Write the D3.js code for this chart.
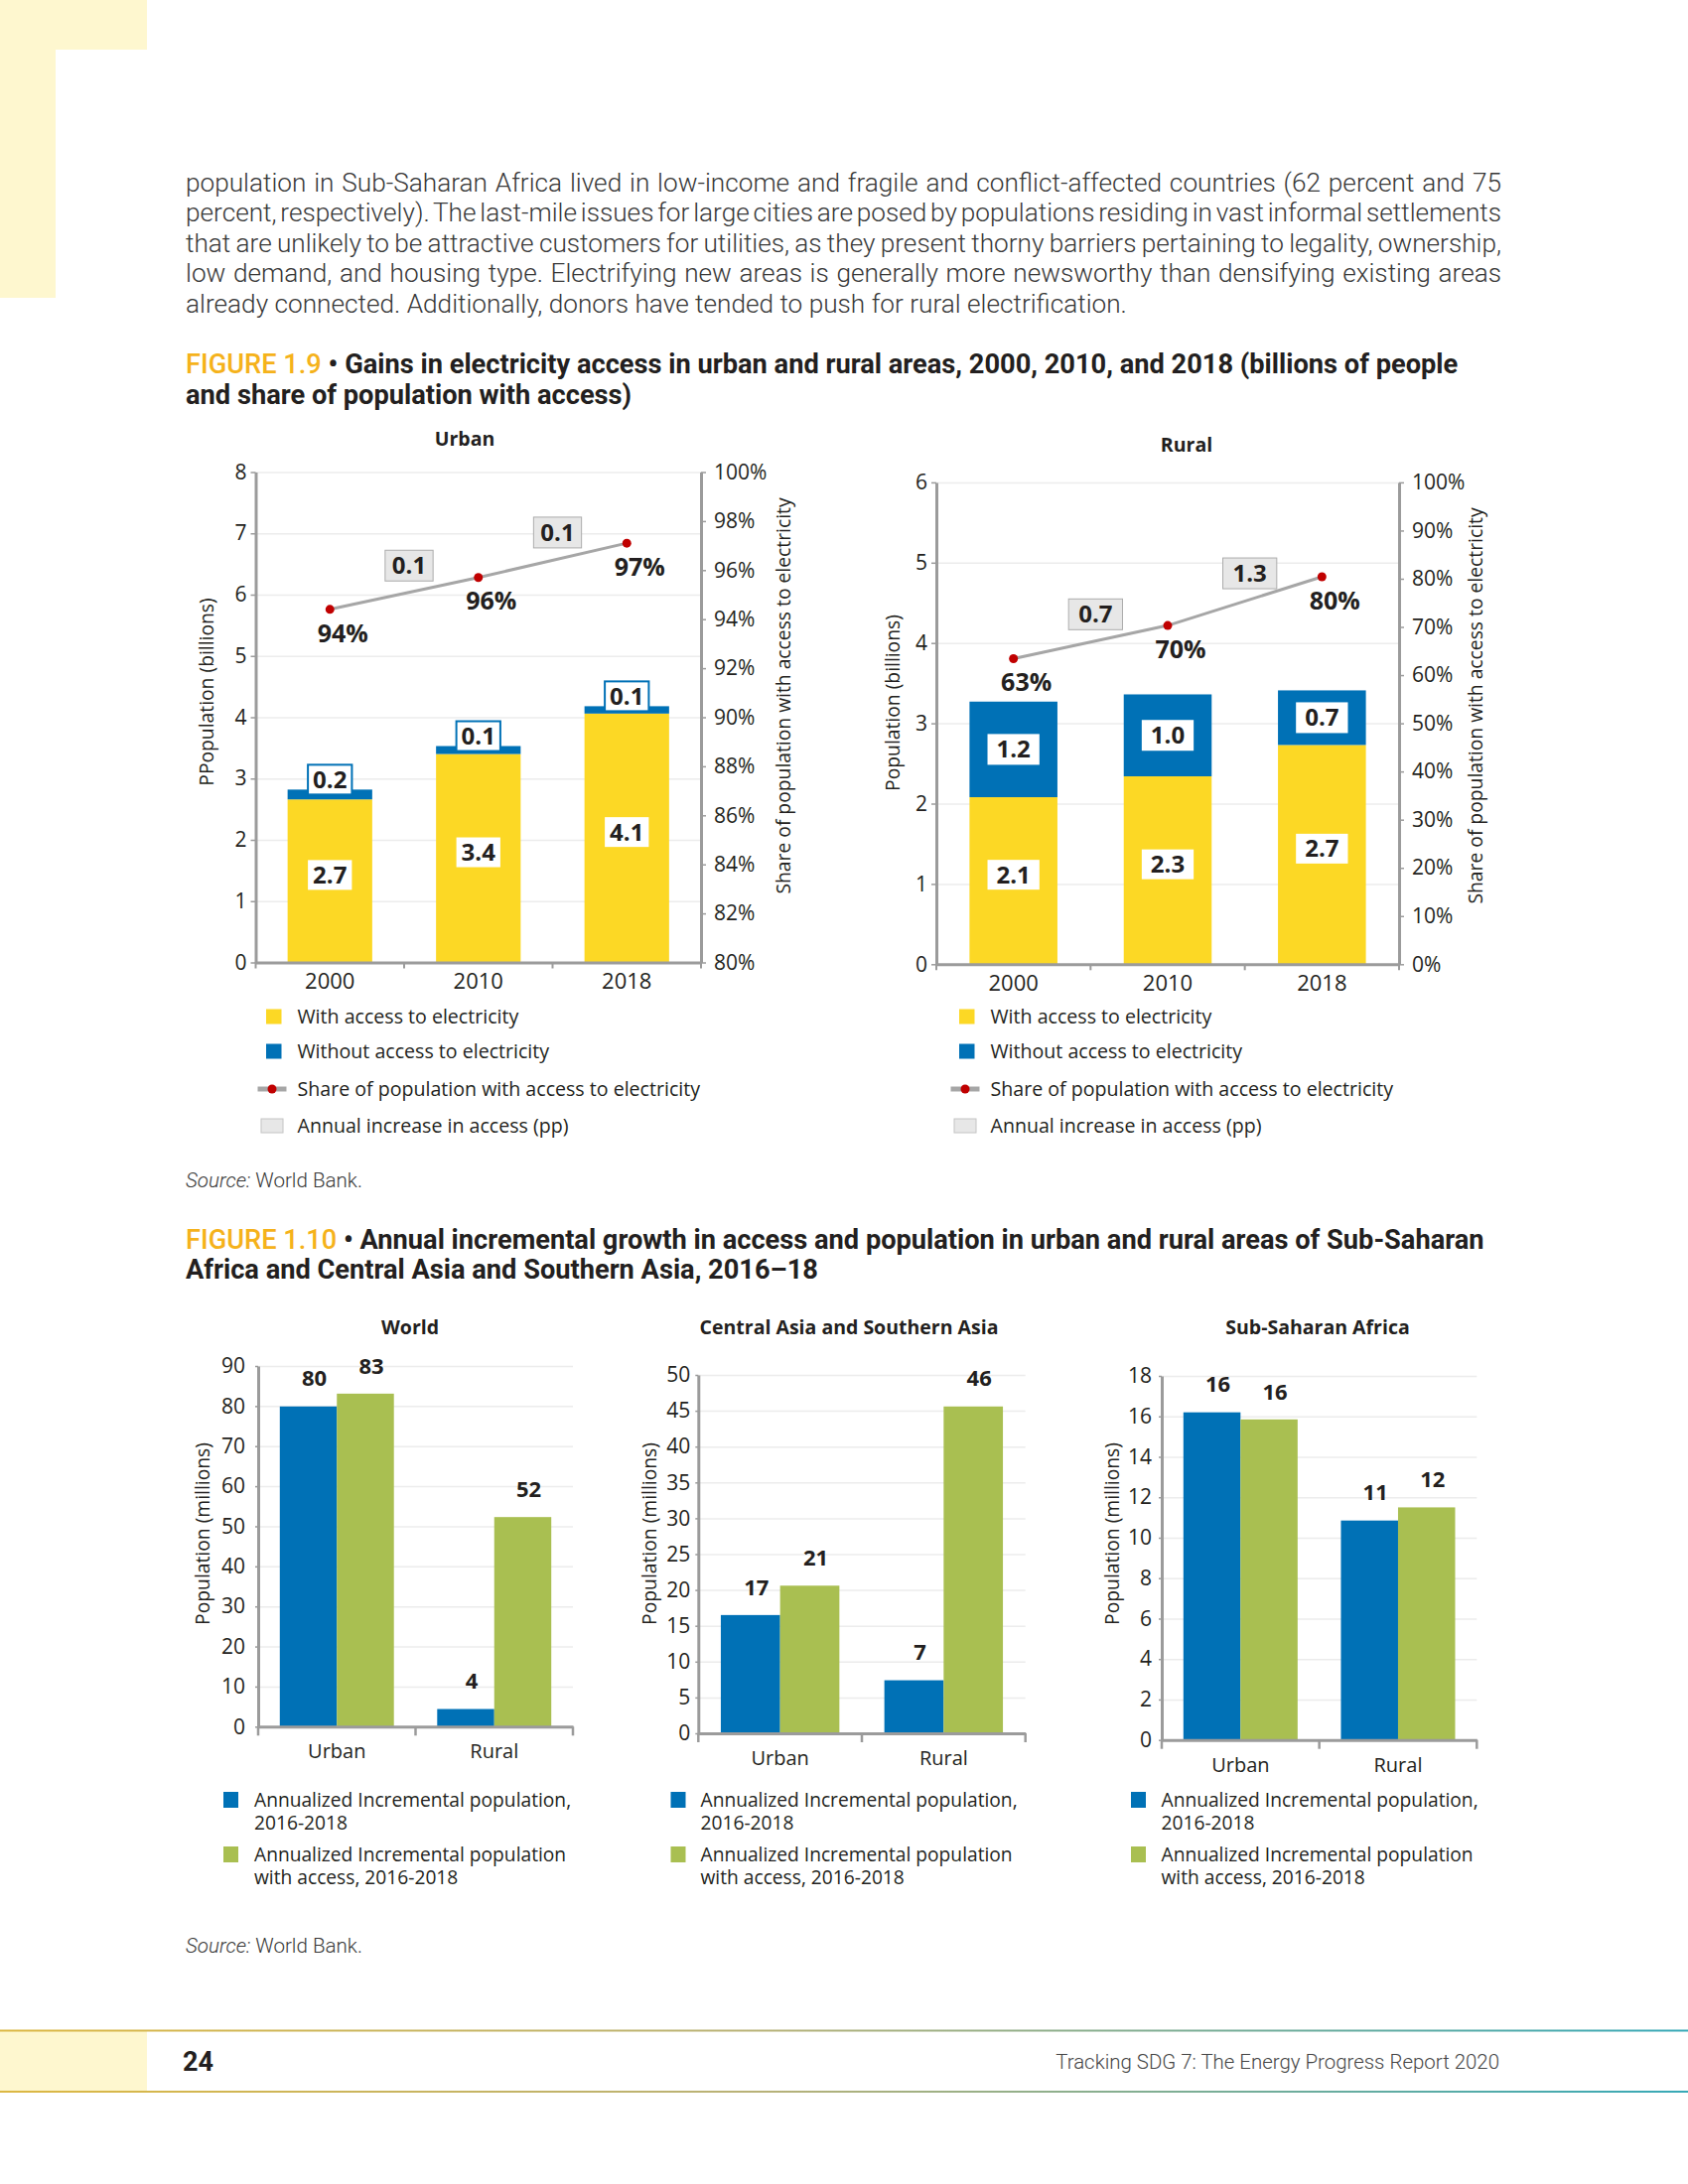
<!DOCTYPE html>
<html>
<head>
<meta charset="utf-8">
<script src="https://cdn.jsdelivr.net/npm/d3@7"></script>
<style>
body { margin: 0; background: #fff; }
svg { display: block; }
.chart text { font-family: "Open Sans", sans-serif; fill: #231f20; }
.page text { font-family: Roboto, sans-serif; }
</style>
</head>
<body>
<script>
//paragraph lines above the figures
var paragraph = [
    'population in Sub-Saharan Africa lived in low-income and fragile and conflict-affected countries (62 percent and 75',
    'percent, respectively). The last-mile issues for large cities are posed by populations residing in vast informal settlements',
    'that are unlikely to be attractive customers for utilities, as they present thorny barriers pertaining to legality, ownership,',
    'low demand, and housing type. Electrifying new areas is generally more newsworthy than densifying existing areas',
    'already connected. Additionally, donors have tended to push for rural electrification.'
];

//figure 1.9 data (billions of people, share in %)
var years = ['2000', '2010', '2018'];
var urbanWith = [2.66, 3.40, 4.06];
var urbanWithout = [0.16, 0.13, 0.12];
var urbanShare = [94.4, 95.7, 97.1];
var urbanIncrease = [0.1, 0.1];
var ruralWith = [2.08, 2.34, 2.73];
var ruralWithout = [1.19, 1.02, 0.68];
var ruralShare = [63.4, 70.3, 80.4];
var ruralIncrease = [0.7, 1.3];
var urbanShareTicks = [80, 82, 84, 86, 88, 90, 92, 94, 96, 98, 100];
var ruralShareTicks = [0, 10, 20, 30, 40, 50, 60, 70, 80, 90, 100];
var legend19 = ['With access to electricity', 'Without access to electricity',
    'Share of population with access to electricity', 'Annual increase in access (pp)'];

//figure 1.10 data (millions of people)
var areas = ['Urban', 'Rural'];
var worldPop = [79.9, 4.4];
var worldAccess = [83.1, 52.3];
var casaPop = [16.5, 7.4];
var casaAccess = [20.6, 45.6];
var ssaPop = [16.2, 10.85];
var ssaAccess = [15.85, 11.5];
var legend110 = [['Annualized Incremental population,', '2016-2018'],
    ['Annualized Incremental population', 'with access, 2016-2018']];

var colors = { with: '#fcd825', without: '#0071b6', pop: '#0071b6', acc: '#a9bf51' };
var axisColor = '#9b9b9b', gridColor = '#ececec';

var svg = d3.select('body').append('svg')
    .attr('width', 1700)
    .attr('height', 2200);

var page = svg.append('g').attr('class', 'page');

//pale yellow page corner
page.append('rect').attr('x', 0).attr('y', 0).attr('width', 148).attr('height', 50).attr('fill', '#fef7cf');
page.append('rect').attr('x', 0).attr('y', 0).attr('width', 56).attr('height', 300).attr('fill', '#fef7cf');

//scale a text's font so its natural width hits a target
function fitSize(sel, target) {
    var size = parseFloat(sel.style('font-size'));
    var w = sel.node().getComputedTextLength();
    var s = size * target / w;
    sel.style('font-size', s + 'px');
    return s;
}

//justified paragraph
var paraLines = page.selectAll('.para')
    .data(paragraph)
    .enter()
    .append('text')
    .attr('class', 'para')
    .attr('x', 187)
    .attr('y', function(d, i){ return 193 + i * 30.4; })
    .style('font-weight', 300)
    .style('font-size', '23px')
    .style('fill', '#383838')
    .text(function(d){ return d; });
var paraSize = fitSize(d3.select(paraLines.nodes()[4]), 948);
paraLines.style('font-size', paraSize + 'px');
paraLines.each(function(d, i){
    if (i == paragraph.length - 1) return;
    var w = this.getComputedTextLength();
    var spaces = d.split(' ').length - 1;
    d3.select(this).attr('word-spacing', (1325 - w) / spaces);
});

//figure titles
function figTitle(y, label, line1, line2, width1) {
    var t1 = page.append('text').attr('x', 187).attr('y', y)
        .style('font-weight', 700).style('font-size', '24px');
    t1.append('tspan').style('fill', '#f5b21b').style('font-weight', 500).text(label);
    t1.append('tspan').style('fill', '#231f20').text(' \u2022 ' + line1);
    var s = fitSize(t1, width1);
    page.append('text').attr('x', 187).attr('y', y + 30.5)
        .style('font-weight', 700).style('font-size', s + 'px').style('fill', '#231f20')
        .text(line2);
}
figTitle(376, 'FIGURE 1.9', 'Gains in electricity access in urban and rural areas, 2000, 2010, and 2018 (billions of people',
    'and share of population with access)', 1282);
figTitle(1257.5, 'FIGURE 1.10', 'Annual incremental growth in access and population in urban and rural areas of Sub-Saharan',
    'Africa and Central Asia and Southern Asia, 2016\u201318', 1308);

//source lines
function source(y) {
    var t = page.append('text').attr('x', 187).attr('y', y)
        .style('font-weight', 300).style('font-size', '19px').style('fill', '#383838');
    t.append('tspan').style('font-style', 'italic').text('Source:');
    t.append('tspan').text(' World Bank.');
    fitSize(t, 178);
}
source(1196);
source(1967);

//footer
var grad = svg.append('defs').append('linearGradient').attr('id', 'rule');
grad.append('stop').attr('offset', '0%').attr('stop-color', '#dcb843');
grad.append('stop').attr('offset', '45%').attr('stop-color', '#b8b278');
grad.append('stop').attr('offset', '100%').attr('stop-color', '#37a9b7');
page.append('rect').attr('x', 0).attr('y', 2045).attr('width', 148).attr('height', 62).attr('fill', '#fef7cf');
page.append('rect').attr('x', 0).attr('y', 2044.5).attr('width', 1700).attr('height', 2).attr('fill', 'url(#rule)');
page.append('rect').attr('x', 0).attr('y', 2106).attr('width', 1700).attr('height', 2).attr('fill', 'url(#rule)');
page.append('text').attr('x', 184).attr('y', 2086)
    .style('font-weight', 700).style('font-size', '27px').style('fill', '#231f20').text('24');
var foot = page.append('text').attr('x', 1510).attr('y', 2084).attr('text-anchor', 'end')
    .style('font-weight', 300).style('font-size', '20px').style('fill', '#444')
    .text('Tracking SDG 7: The Energy Progress Report 2020');
fitSize(foot, 447);

function styleAxis(a, size) {
    a.select('.domain').attr('stroke', axisColor).attr('stroke-width', 3);
    a.selectAll('.tick line').attr('stroke', axisColor).attr('stroke-width', 1.5);
    a.selectAll('text').style('font-size', size + 'px');
}

//label with a box behind it
function boxLabel(g, cx, cy, txt, o) {
    var lg = g.append('g');
    var t = lg.append('text')
        .attr('x', cx).attr('y', cy).attr('dy', '0.35em')
        .attr('text-anchor', 'middle')
        .style('font-weight', 700).style('font-size', '24px')
        .text(txt);
    var w = t.node().getComputedTextLength() + 2 * o.pad;
    lg.insert('rect', 'text')
        .attr('x', cx - w / 2).attr('y', cy - o.h / 2)
        .attr('width', w).attr('height', o.h)
        .attr('fill', o.fill)
        .attr('stroke', o.stroke || 'none')
        .attr('stroke-width', o.strokeWidth || 1);
}

//stacked bars with share line (figure 1.9)
function drawStack(cfg) {
    var g = svg.append('g').attr('class', 'chart');

    var x = d3.scaleBand().domain(years).range([cfg.left, cfg.right]).paddingInner(0.43).paddingOuter(0.215);
    var y = d3.scaleLinear().domain([0, cfg.max]).range([cfg.bottom, cfg.top]);
    var y2 = d3.scaleLinear().domain([cfg.shareTicks[0], cfg.shareTicks[cfg.shareTicks.length - 1]])
        .range([cfg.bottom, cfg.top]);

    //gridlines
    g.append('g')
        .attr('transform', 'translate(' + cfg.left + ',0)')
        .call(d3.axisLeft(y).ticks(cfg.max).tickSize(-(cfg.right - cfg.left)).tickFormat(''))
        .call(function(a){ a.select('.domain').remove(); })
        .selectAll('line').attr('stroke', gridColor).attr('stroke-width', 1.5);

    //bars
    var rows = years.map(function(yr, i){
        return { year: yr, with: cfg.with[i], without: cfg.without[i] };
    });
    var series = d3.stack().keys(['with', 'without'])(rows);
    g.selectAll('.layer')
        .data(series)
        .enter()
        .append('g')
        .attr('fill', function(d){ return colors[d.key]; })
        .selectAll('rect')
        .data(function(d){ return d; })
        .enter()
        .append('rect')
        .attr('x', function(d){ return x(d.data.year); })
        .attr('width', x.bandwidth())
        .attr('y', function(d){ return y(d[1]); })
        .attr('height', function(d){ return y(d[0]) - y(d[1]); });

    //axes
    var ya = g.append('g').attr('transform', 'translate(' + cfg.left + ',0)')
        .call(d3.axisLeft(y).ticks(cfg.max).tickSize(5).tickSizeOuter(0).tickPadding(4));
    styleAxis(ya, 21);
    var ya2 = g.append('g').attr('transform', 'translate(' + cfg.right + ',0)')
        .call(d3.axisRight(y2).tickValues(cfg.shareTicks).tickFormat(function(d){ return d + '%'; })
            .tickSize(5).tickSizeOuter(0).tickPadding(8));
    styleAxis(ya2, 21);
    var xa = g.append('g').attr('transform', 'translate(0,' + cfg.bottom + ')')
        .call(d3.axisBottom(x).tickSize(0).tickSizeOuter(0).tickPadding(11));
    styleAxis(xa, 22);
    var bounds = years.map(function(d){ return x(d) - (x.step() - x.bandwidth()) / 2; }).concat([cfg.right]);
    g.selectAll('.btick')
        .data(bounds)
        .enter()
        .append('line')
        .attr('x1', function(d){ return d; }).attr('x2', function(d){ return d; })
        .attr('y1', cfg.bottom).attr('y2', cfg.bottom + 6)
        .attr('stroke', axisColor).attr('stroke-width', 2);

    //bar value labels
    var fmt = d3.format('.1f');
    series.forEach(function(s){
        s.forEach(function(d){
            var cx = x(d.data.year) + x.bandwidth() / 2;
            var mid = (y(d[0]) + y(d[1])) / 2;
            var txt = fmt(d[1] - d[0]);
            if (s.key == 'with') {
                boxLabel(g, cx, mid - 6, txt, { pad: cfg.pad, h: 30, fill: '#fff' });
            } else if (cfg.boxedAbove) {
                boxLabel(g, cx, y(d[1]) - 10, txt, { pad: cfg.pad, h: 30, fill: '#fff', stroke: colors.without, strokeWidth: 2 });
            } else {
                boxLabel(g, cx, mid, txt, { pad: cfg.pad, h: 31, fill: '#fff' });
            }
        });
    });

    //share line
    var pts = years.map(function(yr, i){
        return { x: x(yr) + x.bandwidth() / 2, y: y2(cfg.share[i]), v: cfg.share[i] };
    });
    g.append('path')
        .datum(pts)
        .attr('fill', 'none')
        .attr('stroke', '#a6a6a6')
        .attr('stroke-width', 3)
        .attr('d', d3.line().x(function(d){ return d.x; }).y(function(d){ return d.y; }));
    g.selectAll('.dot')
        .data(pts)
        .enter()
        .append('circle')
        .attr('cx', function(d){ return d.x; })
        .attr('cy', function(d){ return d.y; })
        .attr('r', 4.5)
        .attr('fill', '#c00000');
    g.selectAll('.pct')
        .data(pts)
        .enter()
        .append('text')
        .attr('x', function(d){ return d.x + 13; })
        .attr('y', function(d){ return d.y + 24; })
        .attr('dy', '0.35em')
        .attr('text-anchor', 'middle')
        .style('font-weight', 700)
        .style('font-size', '25px')
        .text(function(d){ return d3.format('.0f')(d.v) + '%'; });

    //annual increase boxes between years
    cfg.increase.forEach(function(v, i){
        var mx = (pts[i].x + pts[i + 1].x) / 2;
        var my = (pts[i].y + pts[i + 1].y) / 2;
        boxLabel(g, mx + 5, my - 28, fmt(v), { pad: cfg.incPad, h: 31, fill: '#e7e7e7', stroke: '#acacac' });
    });

    //titles
    g.append('text').attr('x', cfg.titleX).attr('y', cfg.titleY).attr('dy', '0.35em')
        .attr('text-anchor', 'middle').style('font-weight', 700).style('font-size', '19.5px')
        .text(cfg.title);
    g.append('text')
        .attr('transform', 'translate(' + cfg.leftTitle[0] + ',' + cfg.leftTitle[1] + ') rotate(-90)')
        .attr('dy', '0.35em').attr('text-anchor', 'middle').style('font-size', '19.3px')
        .text(cfg.leftLabel);
    g.append('text')
        .attr('transform', 'translate(' + cfg.rightTitle[0] + ',' + cfg.rightTitle[1] + ') rotate(-90)')
        .attr('dy', '0.35em').attr('text-anchor', 'middle').style('font-size', '19.3px')
        .text('Share of population with access to electricity');

    //legend
    var lx = cfg.legendX, rowsY = [1024, 1059, 1097, 1134];
    var lg = g.append('g');
    lg.append('rect').attr('x', lx).attr('y', rowsY[0] - 7.5).attr('width', 15.5).attr('height', 15).attr('fill', colors.with);
    lg.append('rect').attr('x', lx).attr('y', rowsY[1] - 7.5).attr('width', 15.5).attr('height', 15).attr('fill', colors.without);
    lg.append('line').attr('x1', lx - 8.5).attr('x2', lx + 20.5).attr('y1', rowsY[2]).attr('y2', rowsY[2])
        .attr('stroke', '#a6a6a6').attr('stroke-width', 5);
    lg.append('circle').attr('cx', lx + 6).attr('cy', rowsY[2]).attr('r', 4.5).attr('fill', '#c00000');
    lg.append('rect').attr('x', lx - 5).attr('y', rowsY[3] - 7).attr('width', 22).attr('height', 14)
        .attr('fill', '#e7e7e7').attr('stroke', '#c4c4c4');
    lg.selectAll('text')
        .data(legend19)
        .enter()
        .append('text')
        .attr('x', lx + 31.5)
        .attr('y', function(d, i){ return rowsY[i]; })
        .attr('dy', '0.35em')
        .style('font-size', '19.6px')
        .text(function(d){ return d; });
}

drawStack({
    left: 257.5, right: 706, top: 475.5, bottom: 969.5, max: 8,
    with: urbanWith, without: urbanWithout, share: urbanShare, increase: urbanIncrease,
    shareTicks: urbanShareTicks, boxedAbove: true, pad: 5, incPad: 7,
    title: 'Urban', titleX: 468, titleY: 442,
    leftLabel: 'PPopulation (billions)', leftTitle: [208, 697], rightTitle: [789, 701],
    legendX: 268
});
drawStack({
    left: 943, right: 1409, top: 485.9, bottom: 971.3, max: 6,
    with: ruralWith, without: ruralWithout, share: ruralShare, increase: ruralIncrease,
    shareTicks: ruralShareTicks, boxedAbove: false, pad: 9, incPad: 10,
    title: 'Rural', titleX: 1195, titleY: 448,
    leftLabel: 'Population (billions)', leftTitle: [899, 708], rightTitle: [1486, 711],
    legendX: 966
});

//grouped bars (figure 1.10)
function drawGrouped(cfg) {
    var g = svg.append('g').attr('class', 'chart');

    var x0 = d3.scaleBand().domain(areas).range([cfg.left, cfg.right]).paddingInner(0.275).paddingOuter(0.1375);
    var x1 = d3.scaleBand().domain(['pop', 'acc']).range([0, x0.bandwidth()]);
    var y = d3.scaleLinear().domain([0, cfg.max]).range([cfg.bottom, cfg.top]);
    var ticks = d3.range(0, cfg.max + cfg.step / 2, cfg.step);

    g.append('g')
        .attr('transform', 'translate(' + cfg.left + ',0)')
        .call(d3.axisLeft(y).tickValues(ticks).tickSize(-(cfg.right - cfg.left)).tickFormat(''))
        .call(function(a){ a.select('.domain').remove(); })
        .selectAll('line').attr('stroke', gridColor).attr('stroke-width', 1.5);

    var rows = areas.map(function(a, i){ return { area: a, pop: cfg.pop[i], acc: cfg.acc[i] }; });
    var groups = g.selectAll('.grp')
        .data(rows)
        .enter()
        .append('g')
        .attr('transform', function(d){ return 'translate(' + x0(d.area) + ',0)'; });
    var bars = groups.selectAll('rect')
        .data(function(d){ return ['pop', 'acc'].map(function(k){ return { key: k, value: d[k] }; }); })
        .enter();
    bars.append('rect')
        .attr('x', function(d){ return x1(d.key); })
        .attr('width', x1.bandwidth())
        .attr('y', function(d){ return y(d.value); })
        .attr('height', function(d){ return cfg.bottom - y(d.value); })
        .attr('fill', function(d){ return colors[d.key]; });
    bars.append('text')
        .attr('x', function(d){ return x1(d.key) + x1.bandwidth() / 2 + 6; })
        .attr('y', function(d){ return y(d.value) - 28; })
        .attr('dy', '0.35em')
        .attr('text-anchor', 'middle')
        .style('font-weight', 700)
        .style('font-size', '22px')
        .text(function(d){ return d3.format('.0f')(d.value); });

    var ya = g.append('g').attr('transform', 'translate(' + cfg.left + ',0)')
        .call(d3.axisLeft(y).tickValues(ticks).tickSize(3).tickSizeOuter(0).tickPadding(cfg.tickPad));
    styleAxis(ya, 21);
    var xa = g.append('g').attr('transform', 'translate(0,' + cfg.bottom + ')')
        .call(d3.axisBottom(x0).tickSize(0).tickSizeOuter(0).tickPadding(18));
    styleAxis(xa, 20);
    var bounds = areas.map(function(d){ return x0(d) - (x0.step() - x0.bandwidth()) / 2; }).concat([cfg.right]);
    g.selectAll('.btick')
        .data(bounds)
        .enter()
        .append('line')
        .attr('x1', function(d){ return d; }).attr('x2', function(d){ return d; })
        .attr('y1', cfg.bottom).attr('y2', cfg.bottom + 9)
        .attr('stroke', axisColor).attr('stroke-width', 2.5);

    g.append('text').attr('x', cfg.titleX).attr('y', 1337).attr('dy', '0.35em')
        .attr('text-anchor', 'middle').style('font-weight', 700).style('font-size', '19.5px')
        .text(cfg.title);
    g.append('text')
        .attr('transform', 'translate(' + cfg.axisTitleX + ',1545) rotate(-90)')
        .attr('dy', '0.35em').attr('text-anchor', 'middle').style('font-size', '19.3px')
        .text('Population (millions)');

    //legend
    var lx = cfg.legendX;
    [['pop', 1805], ['acc', 1860]].forEach(function(r, i){
        g.append('rect').attr('x', lx).attr('y', r[1]).attr('width', 15).attr('height', 16).attr('fill', colors[r[0]]);
        g.selectAll('.lt' + i)
            .data(legend110[i])
            .enter()
            .append('text')
            .attr('x', lx + cfg.textGap)
            .attr('y', function(d, j){ return r[1] + 8.5 + j * 23; })
            .attr('dy', '0.35em')
            .style('font-size', '19.2px')
            .text(function(d){ return d; });
    });
}

drawGrouped({ left: 260, right: 577, top: 1376, bottom: 1739.3, max: 90, step: 10,
    pop: worldPop, acc: worldAccess, title: 'World', titleX: 413, axisTitleX: 204,
    tickPad: 10, legendX: 225, textGap: 31 });
drawGrouped({ left: 703.3, right: 1032.7, top: 1385, bottom: 1746, max: 50, step: 5,
    pop: casaPop, acc: casaAccess, title: 'Central Asia and Southern Asia', titleX: 855, axisTitleX: 654,
    tickPad: 5, legendX: 675.5, textGap: 30 });
drawGrouped({ left: 1170, right: 1487.3, top: 1386, bottom: 1752.7, max: 18, step: 2,
    pop: ssaPop, acc: ssaAccess, title: 'Sub-Saharan Africa', titleX: 1327, axisTitleX: 1120.7,
    tickPad: 7, legendX: 1139, textGap: 30.5 });
</script>
</body>
</html>
